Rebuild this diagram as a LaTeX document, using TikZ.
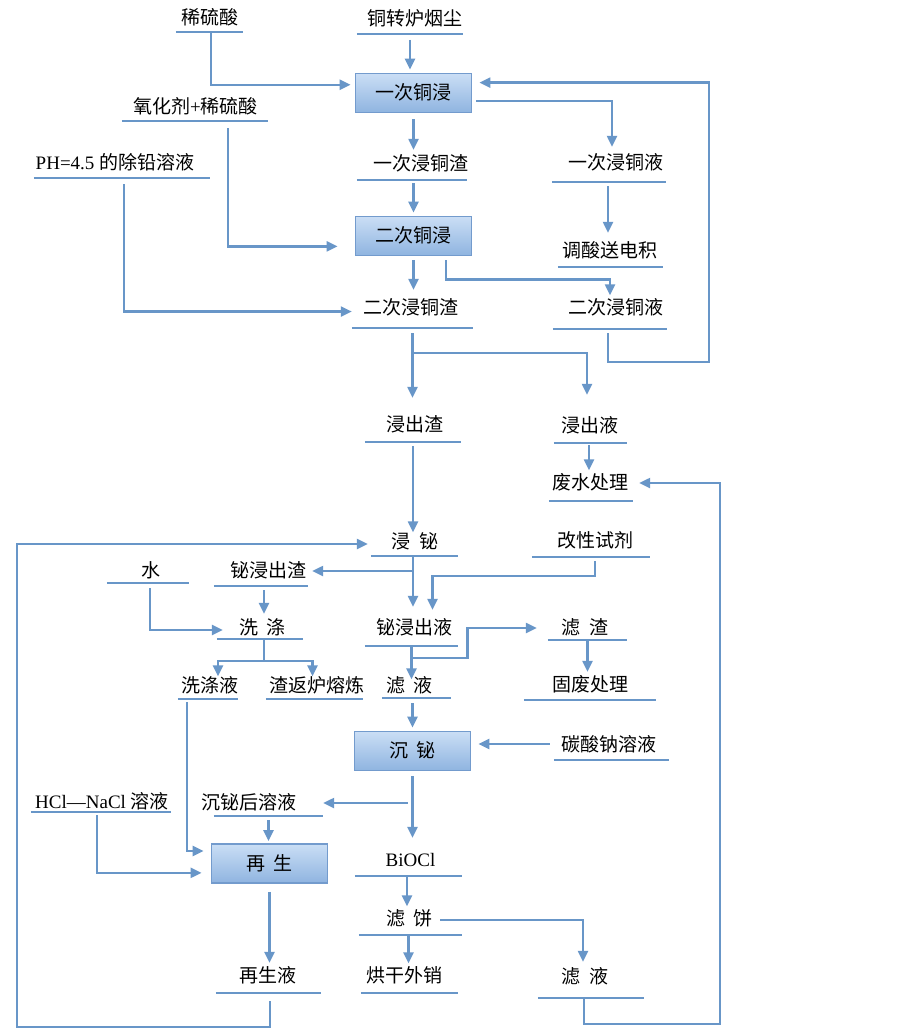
\documentclass[tikz,border=0pt]{standalone}
\usepackage{fontspec}
\setmainfont{Liberation Serif}
\newfontfamily\cjk{Noto Sans CJK SC}
\usetikzlibrary{arrows.meta}
\definecolor{flow}{RGB}{104,150,200}
\definecolor{boxtop}{RGB}{202,222,245}
\definecolor{boxbot}{RGB}{143,180,224}
\definecolor{boxline}{RGB}{115,155,205}
\newcommand\wgap{\hspace{0.47em}}
\newcommand\lat[1]{{\rmfamily #1}}
\tikzset{
  txt/.style={font=\cjk\fontsize{19}{21}\selectfont, inner sep=3pt, text height=16pt, text depth=3pt},
  ulpen/.style={draw=flow, line width=2.2pt},
  ulbar/.style={inner sep=0pt, minimum height=0pt, minimum width=#1pt,
    append after command={(\tikzlastnode.west) edge[ulpen] (\tikzlastnode.east)}},
  stage/.style={txt, draw=boxline, line width=1.8pt, top color=boxtop, bottom color=boxbot,
    minimum width=116pt, minimum height=39pt},
  wire/.style={draw=flow, line width=2.3pt},
  arr/.style={wire, -{Triangle[length=11pt,width=10pt]}},
  ends/.style 2 args={shorten <=#1pt, shorten >=#2pt},
}
\begin{document}
\begin{tikzpicture}[x=1pt,y=-1pt]
\fill[white] (0,0) rectangle (903,1033);
\useasboundingbox (0,0) rectangle (903,1033);

% process stages
\node[stage] (cu1) at (413.5,93) {一次铜浸};
\node[stage] (cu2) at (413.5,236) {二次铜浸};
\node[stage] (bi3) at (412.5,751) {沉\wgap 铋};
\node[stage] (regen) at (269.5,863.5) {再\wgap 生};

% streams, each with its underline
\node[txt] (acid) at (209.5,18) {稀硫酸};
\node[ulbar=67] (acid-u) at (209.5,32) {};
\node[txt] (dust) at (414.5,19) {铜转炉烟尘};
\node[ulbar=106] (dust-u) at (410,34) {};
\node[txt] (oxid) at (195.5,107) {氧化剂\lat{+}稀硫酸};
\node[ulbar=146] (oxid-u) at (195,121) {};
\node[txt] (pbsol) at (115,163) {\lat{PH=4.5 }的除铅溶液};
\node[ulbar=176] (pbsol-u) at (122,178) {};
\node[txt] (slag1) at (420.5,164) {一次浸铜渣};
\node[ulbar=110] (slag1-u) at (412,180) {};
\node[txt] (liq1) at (615.5,163) {一次浸铜液};
\node[ulbar=114] (liq1-u) at (609,182) {};
\node[txt] (elec) at (609.5,251) {调酸送电积};
\node[ulbar=105] (elec-u) at (610.5,267) {};
\node[txt] (slag2) at (410.5,308) {二次浸铜渣};
\node[ulbar=121] (slag2-u) at (412.5,328) {};
\node[txt] (liq2) at (615.5,308) {二次浸铜液};
\node[ulbar=114] (liq2-u) at (610,329) {};
\node[txt] (res) at (414.5,425) {浸出渣};
\node[ulbar=96] (res-u) at (413,442) {};
\node[txt] (leach) at (590,426) {浸出液};
\node[ulbar=73] (leach-u) at (590.5,443) {};
\node[txt] (waste) at (590,483) {废水处理};
\node[ulbar=84] (waste-u) at (591,501) {};
\node[txt] (bileach) at (415,542) {浸\wgap 铋};
\node[ulbar=87] (bileach-u) at (414.5,556) {};
\node[txt] (modif) at (595.5,541) {改性试剂};
\node[ulbar=118] (modif-u) at (591,557) {};
\node[txt] (bislag) at (268,571) {铋浸出渣};
\node[ulbar=94] (bislag-u) at (261,586) {};
\node[txt] (water) at (151,571) {水};
\node[ulbar=82] (water-u) at (148,583) {};
\node[txt] (wash) at (262.5,628) {洗\wgap 涤};
\node[ulbar=86] (wash-u) at (260,639) {};
\node[txt] (washliq) at (210,686) {洗涤液};
\node[ulbar=60] (washliq-u) at (208,699) {};
\node[txt] (resmelt) at (316.5,686) {渣返炉熔炼};
\node[ulbar=97] (resmelt-u) at (314.5,699) {};
\node[txt] (biliq) at (414,628) {铋浸出液};
\node[ulbar=93] (biliq-u) at (411.5,646) {};
\node[txt] (filres) at (585,628) {滤\wgap 渣};
\node[ulbar=79] (filres-u) at (587.5,640) {};
\node[txt] (solid) at (590,685) {固废处理};
\node[ulbar=132] (solid-u) at (590,700) {};
\node[txt] (filt) at (409.5,686) {滤\wgap 液};
\node[ulbar=69] (filt-u) at (416.5,698) {};
\node[txt] (soda) at (609,745) {碳酸钠溶液};
\node[ulbar=115] (soda-u) at (611.5,760) {};
\node[txt] (afterbi) at (248.5,803) {沉铋后溶液};
\node[ulbar=109] (afterbi-u) at (268.5,816) {};
\node[txt] (hcl) at (102,802) {\lat{HCl—NaCl }溶液};
\node[ulbar=140] (hcl-u) at (101,812) {};
\node[txt] (regliq) at (268,976) {再生液};
\node[ulbar=105] (regliq-u) at (268.5,993) {};
\node[txt] (biocl) at (410.5,860) {\lat{BiOCl}};
\node[ulbar=107] (biocl-u) at (408.5,876) {};
\node[txt] (cake) at (409.5,919) {滤\wgap 饼};
\node[ulbar=103] (cake-u) at (410.5,935) {};
\node[txt] (dry) at (404,976) {烘干外销};
\node[ulbar=97] (dry-u) at (409.5,993) {};
\node[txt] (filt2) at (585,977) {滤\wgap 液};
\node[ulbar=106] (filt2-u) at (591,998) {};

% corners of the return lines
\coordinate (loopT) at (709,362);
\coordinate (loopL) at (17,1027);
\coordinate (loopR) at (720,1024);

% copper leaching
\draw[arr,ends={6}{3}] (dust-u.center) -- (dust-u.center |- cu1.north);
\draw[arr,ends={0}{4}] ([xshift=1.5pt]acid-u.center) |- (cu1.172);
\draw[arr,ends={6}{1.5}] (cu1.south) -- (cu1.south |- slag1.north);
\draw[arr,ends={4}{3.5}] (cu1.-8) -| ([xshift=3pt]liq1-u.center |- liq1.north);
\draw[arr,ends={3}{3}] (cu2.north |- slag1-u.center) -- (cu2.north);
\draw[arr,ends={7}{17}] ([xshift=33pt]oxid-u.center) |- (cu2.190);
\draw[arr,ends={6}{8}] ([xshift=2pt]pbsol-u.center) |- (slag2.184);
\draw[arr,ends={4}{5.5}] ([xshift=-1pt]liq1-u.center) -- ([xshift=-1pt]liq1-u.center |- elec.north);
\draw[arr,ends={4}{5.5}] (cu2.south) -- (cu2.south |- slag2.north);
\draw[arr,ends={4}{0}] (cu2.-32) -- ++(0,23) -| (liq2-u.center |- liq2.north);
\draw[arr,ends={4}{7}] ([xshift=-2pt]liq2-u.center) |- (loopT) |- (cu1.10);
\draw[arr,ends={5}{14.5}] (slag2-u.center) -- (slag2-u.center |- res.north);
\draw[arr,ends={0}{18.5}] ([yshift=-25pt]slag2-u.center) -| ([xshift=-3pt]leach.north);
\draw[arr,ends={2}{0}] ([xshift=-1.5pt]leach-u.center) -- ([xshift=-1.5pt]leach-u.center |- waste.north);

% bismuth leaching
\draw[arr,ends={4}{-3}] (res-u.center) -- (res-u.center |- bileach.north);
\draw[arr,ends={0}{8.5}] ([xshift=-1.5pt]bileach-u.center) -- ([xshift=-1.5pt]bileach-u.center |- biliq.north);
\draw[arr,ends={0}{4}] ([xshift=-1.5pt,yshift=-15pt]bileach-u.center) -- (bislag-u.east |- bislag);
\draw[arr,ends={4}{5.5}] ([xshift=4pt]modif-u.center) -- ++(0,19) -| ([xshift=18pt]bileach-u.center |- biliq.north);
\draw[arr,ends={4}{1.5}] ([xshift=3pt]bislag-u.center) -- ([xshift=3pt]bislag-u.center |- wash.north);
\draw[arr,ends={5}{13}] ([xshift=2pt]water-u.center) |- ([yshift=-2pt]wash.west);
\draw[arr,ends={0}{-3}] ([xshift=4pt]wash-u.center) -- ++(0,22) -| ([xshift=8pt]washliq.north);
\draw[arr,ends={0}{-3}] ([xshift=4pt,yshift=-22pt]wash-u.center) -| ([xshift=-4pt]resmelt.north);
\draw[arr,ends={0}{-6}] (biliq-u.center) -- (biliq-u.center |- filt.north);
\draw[arr,ends={0}{11}] ([yshift=-12pt]biliq-u.center) -- ++(56,0) |- (filres-u.west |- filres);
\draw[arr,ends={0}{0.5}] (filres-u.center) -- (filres-u.center |- solid.north);

% precipitation and regeneration
\draw[arr,ends={5}{3}] (bi3.north |- filt-u.center) -- (bi3.north);
\draw[arr,ends={4}{7}] ([yshift=1pt]soda-u.west |- soda) -- ([yshift=1pt]bi3.east |- soda);
\draw[arr,ends={5}{9.5}] (bi3.south) -- (bi3.south |- biocl.north);
\draw[arr,ends={5}{0}] (bi3.south |- afterbi) -- (afterbi-u.east |- afterbi);
\draw[arr,ends={4}{2}] (afterbi-u.center) -- (afterbi-u.center |- regen.north);
\draw[arr,ends={3}{7}] ([xshift=-21pt]washliq-u.center) |- (regen.168);
\draw[arr,ends={3}{9}] ([xshift=-4pt]hcl-u.center) |- (regen.189);
\draw[arr,ends={8}{0.5}] (regen.south) -- (regen.south |- regliq.north);
\draw[arr,ends={8}{3}] ([xshift=1.5pt]regliq-u.center) |- (loopL) |- ([yshift=-2pt]bileach-u.west |- bileach);
\draw[arr,ends={0}{0}] ([xshift=-1.5pt]biocl-u.center) -- ([xshift=-1.5pt]biocl-u.center |- cake.north);
\draw[arr,ends={0}{0}] ([xshift=-2pt]cake-u.center) -- ([xshift=-2pt]cake-u.center |- dry.north);
\draw[arr,ends={4}{2.5}] ([yshift=-1pt]cake.east) -| ([xshift=-2pt]filt2.north);
\draw[arr,ends={0}{8}] ([xshift=-7pt]filt2-u.center) |- (loopR) |- (waste.east);
\end{tikzpicture}
\end{document}
